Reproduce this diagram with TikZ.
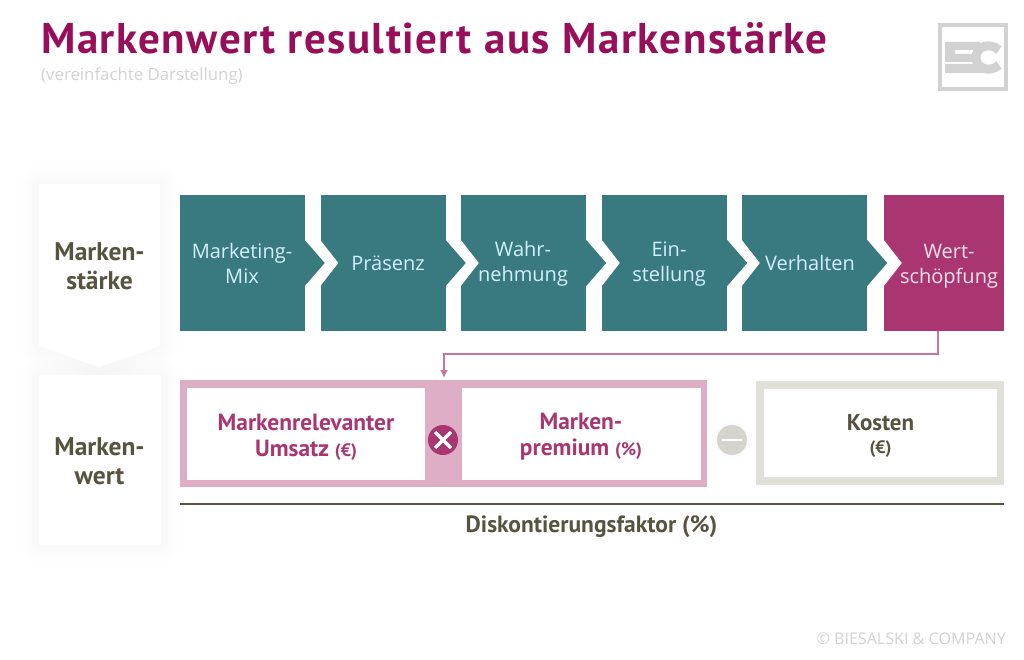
\documentclass[tikz,border=0pt]{standalone}
\usepackage{fontspec}
\setmainfont{PT Sans}
\newfontfamily\stepfont{Open Sans}
\newfontfamily\titlefont[LetterSpace=3.5]{PT Sans}
\usetikzlibrary{calc,positioning,arrows.meta}
\definecolor{titleberry}{HTML}{970F5A}
\definecolor{stepteal}{HTML}{387A7F}
\definecolor{stepberry}{HTML}{A93671}
\definecolor{framepink}{HTML}{DDAEC6}
\definecolor{framegrey}{HTML}{E0DFD8}
\definecolor{darktext}{HTML}{57533F}
\definecolor{logogrey}{HTML}{D2D2D2}
\begin{document}
\begin{tikzpicture}[x=1pt,y=-1pt,
  stepbox/.style={fill=stepteal,minimum width=125pt,minimum height=136pt,inner sep=0pt},
  steptext/.style={align=center,text=white!82!cyan,font=\stepfont\fontsize{20}{25}\selectfont},
  cardtext/.style={align=center,text=darktext,font=\bfseries\fontsize{25.5}{29}\selectfont},
  pinktext/.style={align=center,text=stepberry,font=\bfseries\fontsize{23.4}{26}\selectfont},
  innerbox/.style={fill=white,minimum height=92pt,inner sep=0pt},
  softshadow/.style={draw=black,draw opacity=.004,line join=round}]
  \useasboundingbox (0,0) rectangle (1024,660);
  \node[anchor=base west,inner sep=0pt,text=titleberry,font=\titlefont\bfseries\fontsize{43}{50}\selectfont] (title) at (41,54) {Markenwert resultiert aus Markenst\"arke};
  \node[anchor=base west,inner sep=0pt,text=logogrey,font=\stepfont\fontsize{16.8}{20}\selectfont] (subtitle) at (41,81) {(vereinfachte Darstellung)};
  \node[anchor=base east,inner sep=0pt,text=logogrey,font=\stepfont\fontsize{16.1}{18}\selectfont] (copy) at (1006,644) {\char"00A9{} BIESALSKI \& COMPANY};

  \draw[logogrey,line width=4pt] (940,25) rectangle (1006,89);
  \fill[logogrey] (945,42) -- (980,42) -- (980,50) -- (955,50) -- (955,54) -- (975,54) -- (975,62) -- (945,62) -- cycle;
  \fill[logogrey] (945,64) -- (980,64) -- (985,73) -- (945,73) -- cycle;
  \draw[logogrey,line width=9pt] (999,50) .. controls (990,42) and (976,46) .. (976,57.5) .. controls (976,69) and (990,73) .. (999,65);

  \foreach \w in {6,12,...,36}
    \draw[softshadow,line width=\w pt] (39,184) -- (160,184) -- (160,346) -- (99,367) -- (39,346) -- cycle;
  \foreach \w in {6,12,...,36}
    \draw[softshadow,line width=\w pt] (39,375) rectangle (161,545);
  \fill[white] (39,184) -- (160,184) -- (160,346) -- (99,367) -- (39,346) -- cycle;
  \fill[white] (39,375) rectangle (161,545);
  \node[cardtext] (staerke) at (99.5,266) {Marken-\\st\"arke};
  \node[cardtext] (wert) at (99.5,461) {Marken-\\wert};

  \node[stepbox] (mix) at (242,263) {};
  \node[stepbox] (praesenz) at (383,263) {};
  \node[stepbox] (wahr) at (523.5,263) {};
  \node[stepbox] (ein) at (664.5,263) {};
  \node[stepbox] (verhalten) at (804.5,263) {};
  \node[stepbox,fill=stepberry,minimum width=120pt] (schoepfung) at (944,263) {};
  \foreach \a/\b in {mix/praesenz,praesenz/wahr,wahr/ein,ein/verhalten,verhalten/schoepfung}{
    \fill[white] (\b.west) ++(0,-23) -- ++(18,23) -- ++(-18,23) -- cycle;
    \fill[stepteal] (\a.east) ++(0,-23) -- ++(20,23) -- ++(-20,23) -- cycle;
  }
  \node[steptext] at (242,263) {Marketing-\\Mix};
  \node[steptext] at (388,263) {Pr\"asenz};
  \node[steptext] at (523,264) {Wahr-\\nehmung};
  \node[steptext] at (669,264) {Ein-\\stellung};
  \node[steptext] at (810,263) {Verhalten};
  \node[steptext,text=white!85!stepberry] at (949,266) {Wert-\\sch\"opfung};

  \fill[framepink] (180,380) rectangle (707,487);
  \node[innerbox,minimum width=238pt] (umsatz) at (306,433.5) {};
  \node[innerbox,minimum width=239pt] (premium) at (581.5,433.5) {};
  \node[pinktext] at (306,437) {Markenrelevanter\\Umsatz {\fontsize{18}{26}\selectfont(\char"20AC)}};
  \node[pinktext] at (581,437) {Marken-\\premium {\fontsize{18}{26}\selectfont(\%)}};
  \coordinate (band) at (444,380);

  \fill[framegrey] (756,381) rectangle (1004,485);
  \node[innerbox,minimum width=233pt,minimum height=88pt] (kostenbox) at (880.5,433) {};
  \node[align=center,text=darktext,font=\bfseries\fontsize{23}{23}\selectfont] (kosten) at (880.5,436) {Kosten\\{\fontsize{18}{23}\selectfont(\char"20AC)}};

  \node[circle,fill=stepberry,minimum size=30pt,inner sep=0pt] (mal) at (443,440) {};
  \draw[white,line width=3.5pt] (mal.center) ++(-8,-8) -- ++(16,16) ++(-16,0) -- ++(16,-16);
  \foreach \w in {4,8,12}
    \draw[softshadow,line width=\w pt] (732,440) circle (15);
  \node[circle,fill=framegrey!95!black,minimum size=30pt,inner sep=0pt] (minus) at (732,440) {};
  \draw[white,line width=1.5pt] (minus.center) ++(-10,0) -- ++(20,0);

  \coordinate (foot) at (938,331);
  \draw[draw=stepberry!68,line width=2pt,-{Latex[length=8pt,width=8pt]},shorten >=2pt] (foot) -- ++(0,23) -| (band);

  \coordinate (ruleleft) at (180,504);
  \coordinate (ruleright) at (1004,504);
  \draw[darktext,line width=2pt] (ruleleft) -- (ruleright);
  \node[text=darktext,font=\bfseries\fontsize{23.5}{24}\selectfont] (faktor) at (591.5,527) {Diskontierungsfaktor (\%)};
\end{tikzpicture}
\end{document}
